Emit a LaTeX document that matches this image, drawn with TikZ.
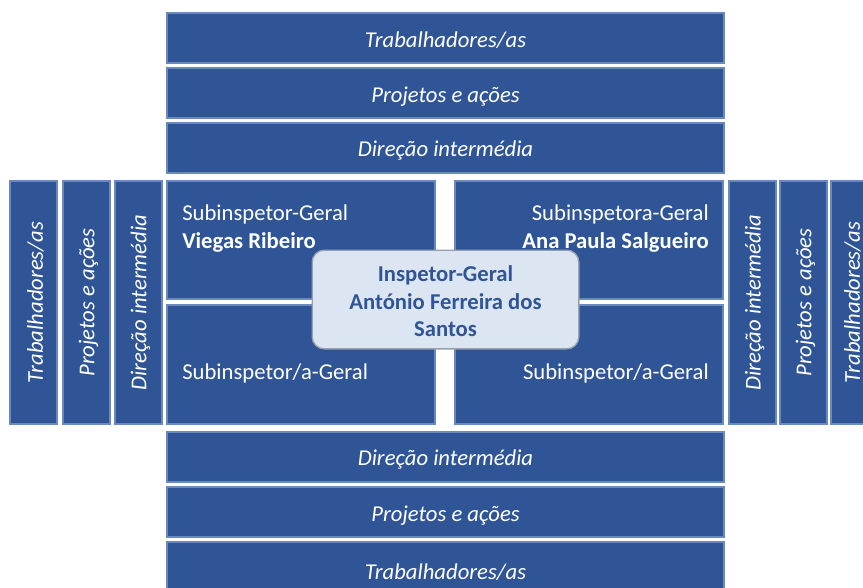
\documentclass[tikz,border=0pt]{standalone}
\usepackage{fontspec}
\setmainfont{Carlito}
\usetikzlibrary{fit}
\definecolor{barblue}{RGB}{47,85,151}
\definecolor{barline}{RGB}{106,138,190}
\definecolor{ctrfill}{RGB}{220,230,242}
\definecolor{ctrline}{RGB}{150,160,175}
\definecolor{ctrtext}{RGB}{47,85,151}
\begin{document}
\begin{tikzpicture}[x=0.75pt,y=-0.75pt,
  bar/.style={draw=barline, line width=0.8pt, fill=barblue, inner sep=0pt},
  bartext/.style={text=white, inner sep=0pt, font=\fontsize{17}{20}\selectfont\itshape},
  qtext/.style={text=white, inner sep=0pt, font=\fontsize{17}{21}\selectfont},
  ctr/.style={draw=ctrline, line width=1pt, fill=ctrfill, rounded corners=9pt,
    minimum width=200pt, minimum height=74pt, inner sep=0pt, align=center,
    text=ctrtext, font=\fontsize{17}{20.6}\selectfont\bfseries}]
\useasboundingbox (0,0) rectangle (863,587);
\clip (0,0) rectangle (863,587);
% top bars
\node[bar, fit={(167,13) (724,63)}] (t1) {};
\node[bar, fit={(167,68) (724,118)}] (t2) {};
\node[bar, fit={(167,123) (724,173)}] (t3) {};
\node[bartext] (t1t) at ([yshift=-1.8pt]t1.center) {Trabalhadores/as};
\node[bartext] (t2t) at ([yshift=-2.5pt]t2.center) {Projetos e ações};
\node[bartext] (t3t) at ([yshift=-1.8pt]t3.center) {Direção intermédia};
% bottom bars
\node[bar, fit={(167,432) (724,482)}] (b3) {};
\node[bar, fit={(167,487) (724,537)}] (b2) {};
\node[bar, fit={(167,542) (724,592)}] (b1) {};
\node[bartext] (b3t) at ([yshift=-1.8pt]b3.center) {Direção intermédia};
\node[bartext] (b2t) at ([yshift=-2.5pt]b2.center) {Projetos e ações};
\node[bartext] (b1t) at ([yshift=-3.5pt]b1.center) {Trabalhadores/as};
% left columns
\node[bar, fit={(10,181) (57,424)}] (l1) {};
\node[bar, fit={(63,181) (110,424)}] (l2) {};
\node[bar, fit={(115,181) (162,424)}] (l3) {};
\node[bartext, rotate=90] (l1t) at ([xshift=1.5pt]l1.center) {Trabalhadores/as};
\node[bartext, rotate=90] (l2t) at ([xshift=1.5pt]l2.center) {Projetos e ações};
\node[bartext, rotate=90] (l3t) at ([xshift=1.5pt]l3.center) {Direção intermédia};
% right columns
\node[bar, fit={(729,181) (776,424)}] (r3) {};
\node[bar, fit={(780,181) (827,424)}] (r2) {};
\node[bar, fit={(831,181) (878,424)}] (r1) {};
\node[bartext, rotate=90] (r3t) at ([xshift=1.5pt]r3.center) {Direção intermédia};
\node[bartext, rotate=90] (r2t) at ([xshift=1.5pt]r2.center) {Projetos e ações};
\node[bartext, rotate=90] (r1t) at ([xshift=-1.5pt]r1.center) {Trabalhadores/as};
% quadrants
\node[bar, fit={(167,181) (435,299)}] (qtl) {};
\node[bar, fit={(455,181) (723,299)}] (qtr) {};
\node[bar, fit={(167,305) (435,424)}] (qbl) {};
\node[bar, fit={(455,305) (723,424)}] (qbr) {};
\node[qtext, anchor=west, align=left] (qtlt) at (182,229) {Subinspetor-Geral\\\textbf{Viegas Ribeiro}};
\node[qtext, anchor=east, align=right] (qtrt) at (709,229) {Subinspetora-Geral\\\textbf{Ana Paula Salgueiro}};
\node[qtext, anchor=west] (qblt) at (182,373) {Subinspetor/a-Geral};
\node[qtext, anchor=east] (qbrt) at (709,373) {Subinspetor/a-Geral};
% center
\node[ctr] (ig) at (445.5,299.5) {};
\node[text=ctrtext, align=center, inner sep=0pt, font=\fontsize{17}{20.6}\selectfont\bfseries] (igt) at (445.5,301.5) {Inspetor-Geral\\António Ferreira dos\\Santos};
\end{tikzpicture}
\end{document}
